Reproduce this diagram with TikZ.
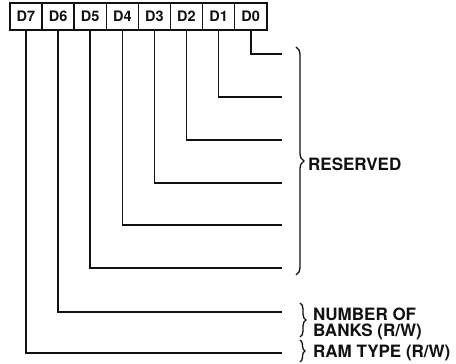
\documentclass[tikz,border=0pt]{standalone}
\usepackage{fontspec}
\setmainfont{TeX Gyre Heros}
\usetikzlibrary{positioning,decorations.pathreplacing}
\definecolor{inkDark}{HTML}{111111}

\begin{document}
\begin{tikzpicture}[x=1pt,y=-1pt,
          every node/.style={font=\bfseries,text=inkDark},
          bitbox/.style={draw=inkDark,line width=1.5pt,outer sep=0pt,
                         minimum width=32.1pt,minimum height=27pt,
                         inner sep=0pt,font=\fontsize{14.5pt}{15pt}\bfseries},
          lead/.style={draw=inkDark,line width=1.6pt},
          curly/.style={draw=inkDark,line width=1.3pt,
                        decorate,decoration={brace,amplitude=#1}},
          tag/.style={anchor=west,align=left,inner sep=0pt,
                      font=\fontsize{17pt}{16.5pt}\bfseries},
        ]
        \useasboundingbox (0,0) rectangle (456,364);
        % register bits
        \node[bitbox] (d7) at (26,16.5) {D7};
        \node[bitbox,right=0pt of d7] (d6) {D6};
        \node[bitbox,right=0pt of d6] (d5) {D5};
        \node[bitbox,right=0pt of d5] (d4) {D4};
        \node[bitbox,right=0pt of d4] (d3) {D3};
        \node[bitbox,right=0pt of d3] (d2) {D2};
        \node[bitbox,right=0pt of d2] (d1) {D1};
        \node[bitbox,right=0pt of d1] (d0) {D0};
        % line ends
        \coordinate (e0) at (282,54);
        \coordinate (e1) at (282,97);
        \coordinate (e2) at (282,140);
        \coordinate (e3) at (282,183);
        \coordinate (e4) at (282,225);
        \coordinate (e5) at (282,268);
        \coordinate (e6) at (282,312);
        \coordinate (e7) at (282,353);
        \draw[lead] (d0.south) |- (e0);
        \draw[lead] (d1.south) |- (e1);
        \draw[lead] (d2.south) |- (e2);
        \draw[lead] (d3.south) |- (e3);
        \draw[lead] (d4.south) |- (e4);
        \draw[lead] (d5.south) |- (e5);
        \draw[lead] (d6.south) |- (e6);
        \draw[lead] (d7.south) |- (e7);
        % braces and labels
        \coordinate (r1) at (296,47);
        \coordinate (r2) at (296,275);
        \draw[curly=8pt] (r1) -- (r2);
        \node[tag] (rsv) at (308,164) {RESERVED};
        \coordinate (b1) at (300,303);
        \coordinate (b2) at (300,337);
        \draw[curly=6pt] (b1) -- (b2);
        \node[tag] (bnk) at (313,324) {NUMBER OF\\BANKS (R/W)};
        \coordinate (t1) at (300,340);
        \coordinate (t2) at (300,362);
        \draw[curly=5pt] (t1) -- (t2);
        \node[tag] (ram) at (313,353) {RAM TYPE (R/W)};
      \end{tikzpicture}
\end{document}
